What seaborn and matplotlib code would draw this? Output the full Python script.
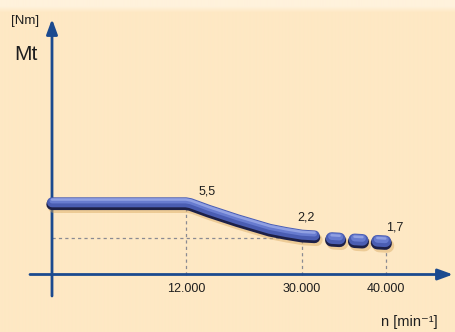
import numpy as np
import pandas as pd
import seaborn as sns
import matplotlib
matplotlib.use("Agg")
import matplotlib.pyplot as plt
import matplotlib.patheffects as pe

sns.set_theme(style="white")
plt.rcParams["font.family"] = ["Liberation Sans", "DejaVu Sans"]
plt.rcParams["lines.scale_dashes"] = False

# ---------------- data ----------------
n_curve = [0, 12000, 12700, 13700, 15500, 17500, 20000, 22500, 25000, 27500, 30000, 31500]
mt_curve = [5.5, 5.5, 5.42, 5.2, 4.8, 4.4, 3.9, 3.45, 3.0, 2.7, 2.45, 2.38]
n_dash = [32100, 40000]
mt_dash = [2.2, 1.7]
tick_values = [12000, 30000, 40000]
tick_labels = ["12.000", "30.000", "40.000"]
marked_n = [12000, 30000, 40000]
marked_mt = [5.5, 2.2, 1.7]
marked_labels = ["5,5", "2,2", "1,7"]

# ---------------- schematic (piecewise) scales ----------------
X_KNOTS = [-4657, 0, 12000, 30000, 40000, 48214]
X_PIX = [0, 52, 186, 302, 386, 455]
Y_KNOTS = [-3.08, 0, 1.7, 2.2, 5.5, 24.6]
Y_PIX = [0, 57.5, 90, 94, 129, 332]


def make_scale(knots, pix):
    k = np.asarray(knots, float)
    p = np.asarray(pix, float)

    def piece(v, a, b):
        v = np.asarray(v, float)
        out = np.interp(v, a, b)
        s0 = (b[1] - b[0]) / (a[1] - a[0])
        s1 = (b[-1] - b[-2]) / (a[-1] - a[-2])
        out = np.where(v < a[0], b[0] + (v - a[0]) * s0, out)
        out = np.where(v > a[-1], b[-1] + (v - a[-1]) * s1, out)
        return out

    return (lambda v: piece(v, k, p)), (lambda u: piece(u, p, k))


fx, ix = make_scale(X_KNOTS, X_PIX)
fy, iy = make_scale(Y_KNOTS, Y_PIX)

fig = plt.figure(figsize=(4.55, 3.32), dpi=100)
ax = fig.add_axes([0, 0, 1, 1])
ax.set_xscale("function", functions=(fx, ix))
ax.set_yscale("function", functions=(fy, iy))
ax.set_axis_off()

# background
H = 332
rows = np.arange(H)
base = np.array([254, 232, 196]) / 255.0
top = np.array([255, 242, 220]) / 255.0
w = np.clip((rows - 6) / 6.0, 0, 1)[:, None]
grad = top * (1 - w) + base * w
img = np.repeat(grad[:, None, :], 4, axis=1)
ax.imshow(img, extent=(0, 1, 0, 1), transform=ax.transAxes, aspect="auto",
          zorder=0, interpolation="bilinear")

AX = "#1b4a8f"
ARROW = dict(arrowstyle="-|>,head_length=0.9,head_width=0.33",
             color=AX, lw=2, shrinkA=0, shrinkB=0, mutation_scale=10)
ax.annotate("", xy=(52, 332 - 19), xytext=(52, 332 - 296),
            xycoords="figure pixels", textcoords="figure pixels",
            arrowprops=ARROW, zorder=2)
ax.annotate("", xy=(453, 57.5), xytext=(30, 57.5),
            xycoords="figure pixels", textcoords="figure pixels",
            arrowprops=ARROW, zorder=2)

# dotted guides
GUIDE = dict(color="#8a8a92", lw=0.9, linestyle=(0, (2.3, 2.3)), zorder=1.5)
for v, m in zip(marked_n, marked_mt):
    ax.plot([v, v], [0, m], **GUIDE)
ax.plot([0, marked_n[1]], [marked_mt[1], marked_mt[1]], **GUIDE)


def tube(lw):
    return [
        pe.Stroke(offset=(1.4, -2.8), linewidth=lw + 0.6, foreground="#d9a85e", alpha=0.45),
        pe.Stroke(offset=(0, -1.0), linewidth=lw, foreground="#1d2047"),
        pe.Stroke(offset=(0, 0.5), linewidth=lw - 1.0, foreground="#4a5db2"),
        pe.Stroke(offset=(0, 1.6), linewidth=lw - 4.4, foreground="#677bcf"),
        pe.Stroke(offset=(0, 2.5), linewidth=1.8, foreground="#98a7e6", alpha=0.85),
    ]


LW = 8.2
sns.lineplot(x=n_curve, y=mt_curve, ax=ax, sort=False, color="#4a5db2",
             lw=LW, solid_capstyle="round", solid_joinstyle="round", zorder=4)
ax.lines[-1].set_path_effects(tube(LW))

LWD = 9.4
sns.lineplot(x=n_dash, y=mt_dash, ax=ax, sort=False, color="#4a5db2",
             lw=LWD, linestyle=(7.9, (5.8, 10.7)), dash_capstyle="round",
             zorder=4)
ax.lines[-1].set_path_effects(tube(LWD))

TXT = "#1e1e1e"
for v, lab in zip(tick_values, tick_labels):
    ax.annotate(lab, (v, 0), xytext=(0, -14), textcoords="offset pixels",
                ha="center", va="center", fontsize=9, color=TXT)

offsets = [(21, 11), (4, 20), (9, 14)]
for v, m, lab, off in zip(marked_n, marked_mt, marked_labels, offsets):
    ax.annotate(lab, (v, m), xytext=off, textcoords="offset pixels",
                ha="center", va="center", fontsize=9, color=TXT)

fig.text(26 / 455, 1 - 55 / 332, "Mt", fontsize=15, ha="center", va="center", color=TXT)
fig.text(25 / 455, 1 - 21 / 332, "[Nm]", fontsize=9.5, ha="center", va="center", color=TXT)
fig.text(409 / 455, 1 - 322 / 332, "n [min⁻¹]", fontsize=10.5, ha="center", va="center", color=TXT)

ax.set_xlim(X_KNOTS[0], X_KNOTS[-1])
ax.set_ylim(Y_KNOTS[0], Y_KNOTS[-1])

fig.savefig("out.png", dpi=100)
